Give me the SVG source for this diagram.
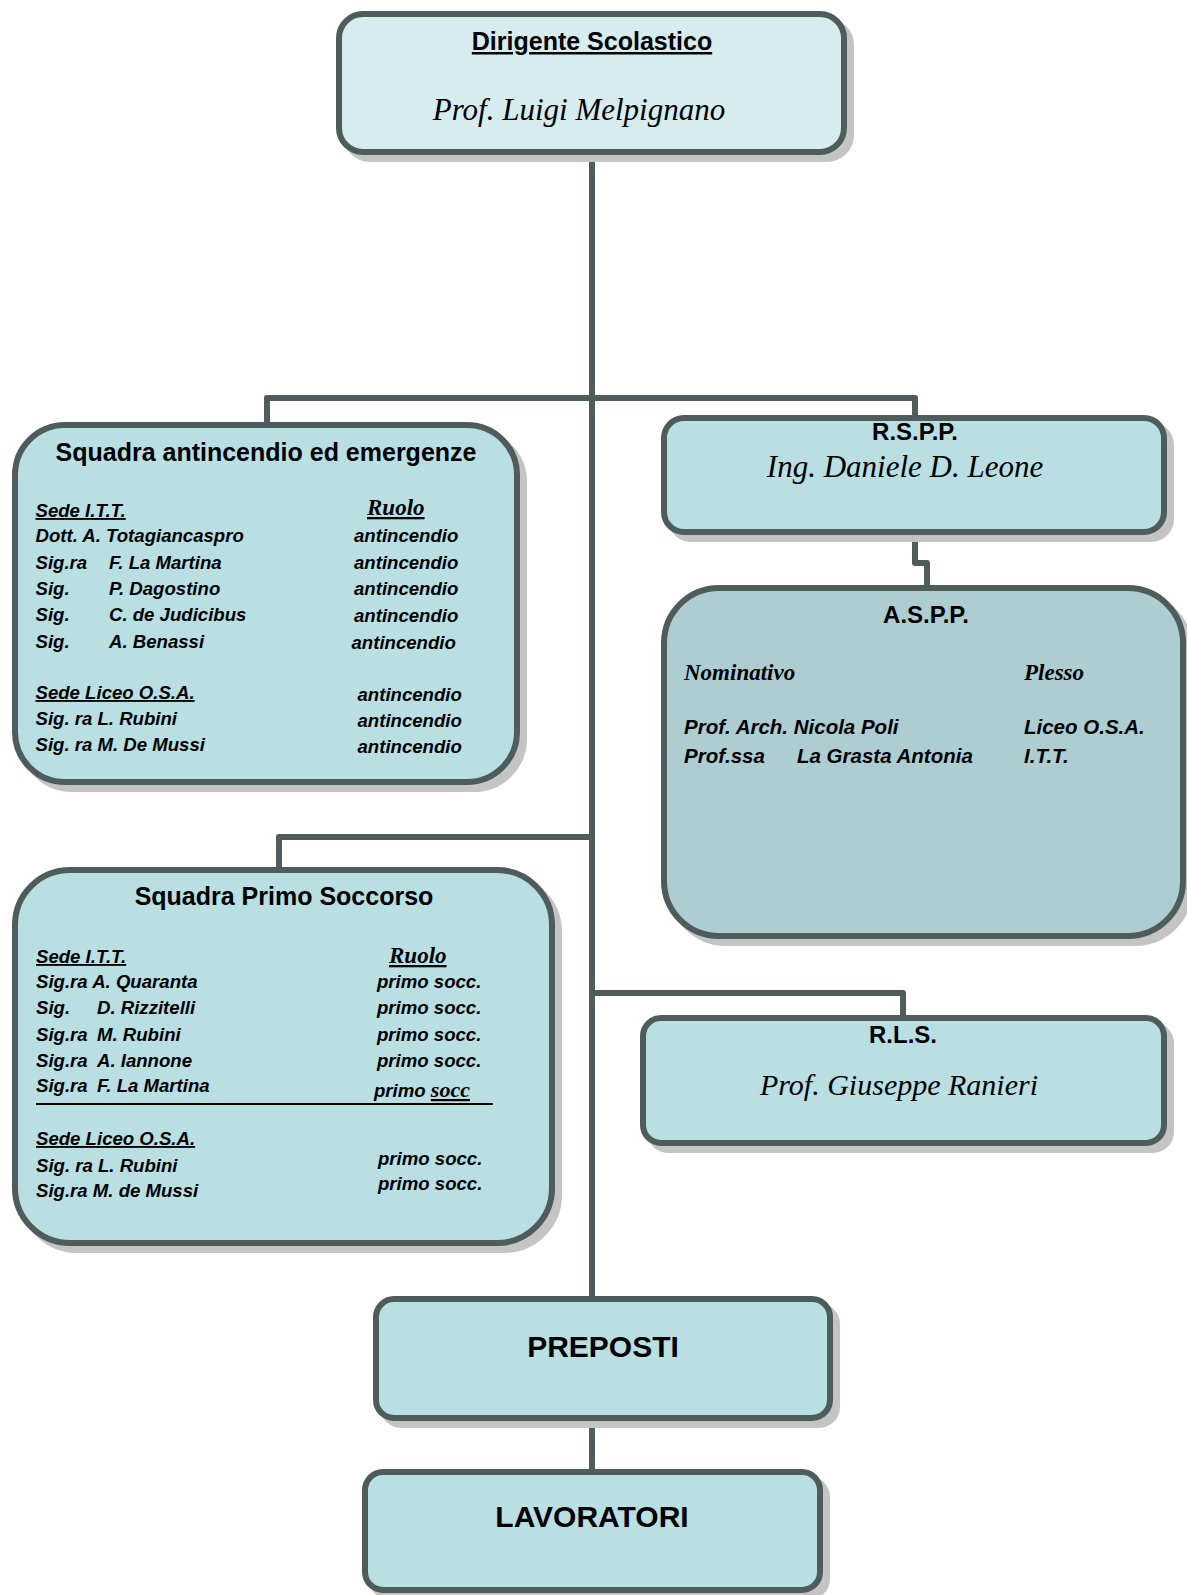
<svg xmlns="http://www.w3.org/2000/svg" width="1187" height="1595" viewBox="0 0 1187 1595">
<style>
.box{stroke:#4e5c5c;stroke-width:6;fill:#b9dfe3}
.shadow{fill:#c4c4c4;stroke:#c4c4c4;stroke-width:6}
.conn{stroke:#4e5c5c;stroke-width:6;fill:none;stroke-linejoin:round}
.hd{font-family:"Liberation Sans",Arial,sans-serif;font-weight:bold;fill:#000;text-anchor:middle}
.nm{font-family:"Liberation Serif","Times New Roman",serif;font-style:italic;fill:#000;text-anchor:middle}
.b{font-family:"Liberation Sans",Arial,sans-serif;font-weight:bold;font-style:italic;font-size:18.6px;fill:#000}
.sb{font-family:"Liberation Serif","Times New Roman",serif;font-weight:bold;font-style:italic;font-size:23px;fill:#000}
.u{text-decoration:underline}
</style>
<rect width="1187" height="1595" fill="#ffffff"/>

<g id="connectors">
<path class="conn" d="M592 152 V1299"/>
<path class="conn" d="M267 425 V398 H915 V418"/>
<path class="conn" d="M915 532 V563 H927 V588"/>
<path class="conn" d="M279 870 V837 H592"/>
<path class="conn" d="M592 993 H903 V1018"/>
<path class="conn" d="M592 1418 V1472"/>
</g>

<g id="dirigente">
<rect class="shadow" x="346" y="21" width="505" height="138" rx="24"/>
<rect class="box" x="339" y="14" width="505" height="138" rx="24" style="fill:#d6ecef"/>
<text class="hd u" x="592" y="50" font-size="25">Dirigente Scolastico</text>
<text class="nm" x="579" y="120" font-size="31">Prof. Luigi Melpignano</text>
</g>

<g id="antincendio">
<rect class="shadow" x="22" y="432" width="502" height="357" rx="50"/>
<rect class="box" x="15" y="425" width="502" height="357" rx="50"/>
<text class="hd" x="266" y="461" font-size="25">Squadra antincendio ed emergenze</text>
<text class="b u" x="35.5" y="517">Sede I.T.T.</text>
<text class="sb u" x="367" y="515">Ruolo</text>
<text class="b" x="35.5" y="541.5">Dott. A. Totagiancaspro</text>
<text class="b" x="35.5" y="568.5">Sig.ra</text><text class="b" x="109" y="568.5">F. La Martina</text>
<text class="b" x="35.5" y="594.5">Sig.</text><text class="b" x="109" y="594.5">P. Dagostino</text>
<text class="b" x="35.5" y="621">Sig.</text><text class="b" x="109" y="621">C. de Judicibus</text>
<text class="b" x="35.5" y="647.5">Sig.</text><text class="b" x="109" y="647.5">A. Benassi</text>
<text class="b u" x="35.5" y="699">Sede Liceo O.S.A.</text>
<text class="b" x="35.5" y="725">Sig. ra L. Rubini</text>
<text class="b" x="35.5" y="751">Sig. ra M. De Mussi</text>
<text class="b" x="354" y="542">antincendio</text>
<text class="b" x="354" y="569">antincendio</text>
<text class="b" x="354" y="595">antincendio</text>
<text class="b" x="354" y="621.5">antincendio</text>
<text class="b" x="351.5" y="649">antincendio</text>
<text class="b" x="357.5" y="701">antincendio</text>
<text class="b" x="357.5" y="726.5">antincendio</text>
<text class="b" x="357.5" y="752.5">antincendio</text>
</g>

<g id="rspp">
<rect class="shadow" x="671" y="425" width="500" height="114" rx="20"/>
<rect class="box" x="664" y="418" width="500" height="114" rx="20"/>
<text class="hd" x="915" y="440" font-size="24">R.S.P.P.</text>
<text class="nm" x="905" y="477" font-size="31">Ing. Daniele D. Leone</text>
</g>

<g id="aspp">
<rect class="shadow" x="671" y="595" width="519" height="348" rx="55"/>
<rect class="box" x="664" y="588" width="519" height="348" rx="55" style="fill:#adcdd0"/>
<text class="hd" x="926" y="623" font-size="24">A.S.P.P.</text>
<text class="sb" x="684" y="680">Nominativo</text>
<text class="sb" x="1024" y="680">Plesso</text>
<text class="b" x="684" y="734" style="font-size:20.5px">Prof. Arch. Nicola Poli</text>
<text class="b" x="684" y="763" style="font-size:20.5px">Prof.ssa</text>
<text class="b" x="797" y="763" style="font-size:20.5px">La Grasta Antonia</text>
<text class="b" x="1024" y="734" style="font-size:20.5px">Liceo O.S.A.</text>
<text class="b" x="1024" y="763" style="font-size:20.5px">I.T.T.</text>
</g>

<g id="primo-soccorso">
<rect class="shadow" x="22" y="877" width="537" height="373" rx="55"/>
<rect class="box" x="15" y="870" width="537" height="373" rx="55"/>
<text class="hd" x="284" y="905" font-size="25">Squadra Primo Soccorso</text>
<text class="b u" x="36" y="963">Sede I.T.T.</text>
<text class="sb u" x="389" y="963">Ruolo</text>
<text class="b" x="36" y="988">Sig.ra A. Quaranta</text>
<text class="b" x="36" y="1014">Sig.</text><text class="b" x="97" y="1014">D. Rizzitelli</text>
<text class="b" x="36" y="1041">Sig.ra</text><text class="b" x="97" y="1041">M. Rubini</text>
<text class="b" x="36" y="1067">Sig.ra</text><text class="b" x="97" y="1067">A. Iannone</text>
<text class="b" x="36" y="1092">Sig.ra</text><text class="b" x="97" y="1092">F. La Martina</text>
<line x1="36" y1="1104" x2="493" y2="1104" stroke="#000" stroke-width="2"/>
<text class="b" x="377" y="988">primo socc.</text>
<text class="b" x="377" y="1014">primo socc.</text>
<text class="b" x="377" y="1041">primo socc.</text>
<text class="b" x="377" y="1067">primo socc.</text>
<text class="b" x="374" y="1097">primo <tspan class="u" style="font-family:'Liberation Serif',serif;font-size:22px">socc</tspan></text>
<text class="b u" x="36" y="1145">Sede Liceo O.S.A.</text>
<text class="b" x="36" y="1172">Sig. ra L. Rubini</text>
<text class="b" x="36" y="1197">Sig.ra M. de Mussi</text>
<text class="b" x="378" y="1165">primo socc.</text>
<text class="b" x="378" y="1190">primo socc.</text>
</g>

<g id="rls">
<rect class="shadow" x="650" y="1025" width="521" height="125" rx="18"/>
<rect class="box" x="643" y="1018" width="521" height="125" rx="18"/>
<text class="hd" x="903" y="1043" font-size="24">R.L.S.</text>
<text class="nm" x="899" y="1095" font-size="30">Prof. Giuseppe Ranieri</text>
</g>

<g id="preposti">
<rect class="shadow" x="383" y="1306" width="454" height="119" rx="18"/>
<rect class="box" x="376" y="1299" width="454" height="119" rx="18"/>
<text class="hd" x="603" y="1357" font-size="30">PREPOSTI</text>
</g>

<g id="lavoratori">
<rect class="shadow" x="372" y="1479" width="455" height="118" rx="18"/>
<rect class="box" x="365" y="1472" width="455" height="118" rx="18"/>
<text class="hd" x="592" y="1527" font-size="30">LAVORATORI</text>
</g>
</svg>
